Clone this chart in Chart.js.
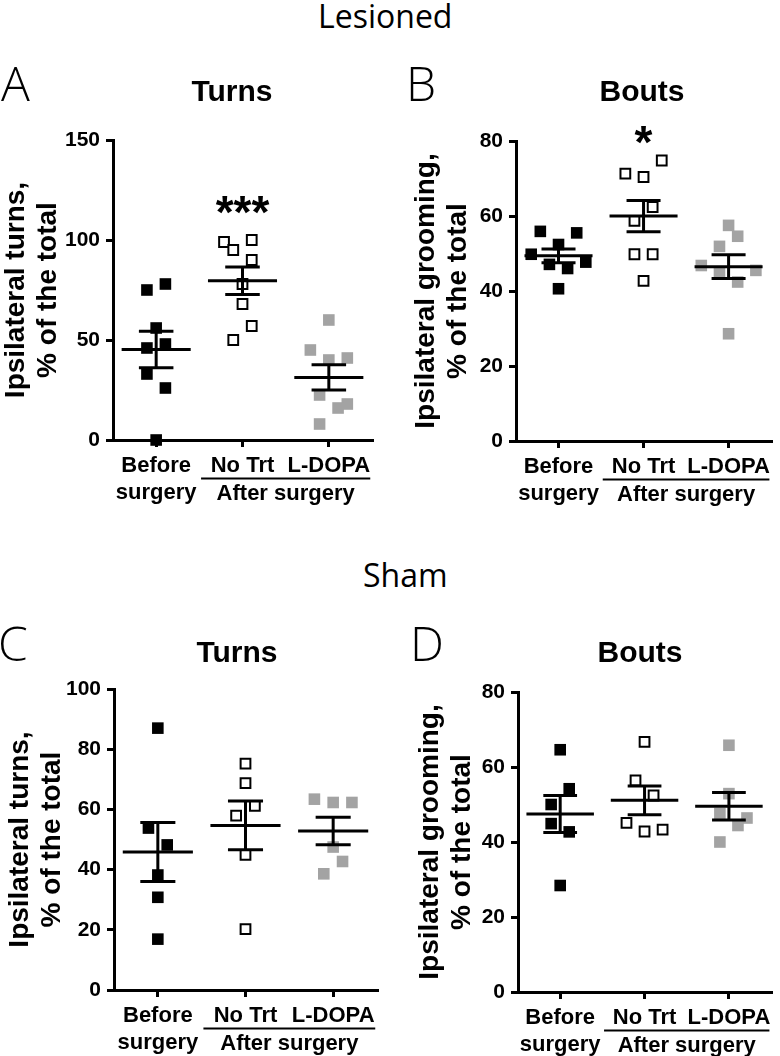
<!DOCTYPE html>
<html>
<head>
<meta charset="utf-8">
<script src="https://cdn.jsdelivr.net/npm/chart.js@4.4.0/dist/chart.umd.min.js"></script>
<style>
  body { margin: 0; background: #fff; }
  #page { position: relative; width: 780px; height: 1056px; overflow: hidden; }
  canvas { position: absolute; }
  .txt { position: absolute; line-height: 1; white-space: nowrap; color: #000; z-index: 2; }
  .head { font-family: 'Open Sans', sans-serif; font-size: 32px; }
  .letter { font-family: 'Open Sans', sans-serif; font-size: 48px; font-weight: 300; }
  .ptitle { font-family: 'Liberation Sans', Arial, sans-serif; font-size: 30px; font-weight: bold; width: 200px; text-align: center; }
</style>
</head>
<body>
<div id="page">
  <div class="txt head" style="left:318px;top:0px">Lesioned</div>
  <div class="txt head" style="left:363px;top:559px">Sham</div>

  <div class="txt letter" style="left:1px;top:59px">A</div>
  <div class="txt letter" style="left:406px;top:59px">B</div>
  <div class="txt letter" style="left:-2px;top:619px">C</div>
  <div class="txt letter" style="left:410px;top:619px">D</div>

  <div class="txt ptitle" style="left:132px;top:76px">Turns</div>
  <div class="txt ptitle" style="left:542px;top:76px">Bouts</div>
  <div class="txt ptitle" style="left:137px;top:637px">Turns</div>
  <div class="txt ptitle" style="left:540px;top:637px">Bouts</div>

  <canvas id="chartA" width="390" height="420" style="left:0px;top:100px"></canvas>
  <canvas id="chartB" width="390" height="420" style="left:390px;top:100px"></canvas>
  <canvas id="chartC" width="390" height="436" style="left:0px;top:620px"></canvas>
  <canvas id="chartD" width="390" height="436" style="left:390px;top:620px"></canvas>
</div>

<script>
// groups and axis labels
const groups = ['Before surgery', 'No Trt', 'L-DOPA'];
const xTickLabels = [['Before', 'surgery'], 'No Trt', 'L-DOPA'];
const afterLabel = 'After surgery';

// A - lesioned, turns (% ipsilateral)
const turnsLesBefore = [75, 78, 56, 46, 48, 33, 26, 0];
const turnsLesNoTrt = [99, 95, 100, 90, 78, 68, 57, 50];
const turnsLesLdopa = [60, 45, 40, 41, 22.5, 18, 16, 8];
// column each point sits in inside its group (scatter spread)
const turnsLesBeforeCol = [-1, 1, 0, -1, 1, -1, 1, 0];
const turnsLesNoTrtCol = [-2, -1, 1, 1, 0, 0, 1, -1];
const turnsLesLdopaCol = [0, -2, 0, 2, -1, 2, 1, -1];
const turnsLesSig = ['', '***', ''];
const turnsLesSigAt = 119;
const turnsLesTicks = [0, 150, 50];

// B - lesioned, grooming bouts
const boutsLesBefore = [55.9, 55.5, 52.4, 49.8, 47.7, 47.1, 46.0, 40.6];
const boutsLesNoTrt = [74.8, 71.3, 70.4, 62.4, 58.7, 49.8, 49.8, 42.7];
const boutsLesLdopa = [57.5, 54.6, 51.9, 46.8, 44.6, 42.4, 45.5, 28.6];
const boutsLesBeforeCol = [-2, 2, 0, -3, 3, -1, 1, 0];
const boutsLesNoTrtCol = [2, -2, 0, 1, -1, -1, 1, 0];
const boutsLesLdopaCol = [0, 1, -1, -3, -1, 1, 3, 0];
const boutsLesSig = ['', '*', ''];
const boutsLesSigAt = 82.3;
const boutsLesTicks = [0, 80, 20];

// C - sham, turns
const turnsShamBefore = [87, 53.8, 48.2, 38.2, 30.8, 16.9];
const turnsShamNoTrt = [75.2, 68.7, 61.2, 57.9, 44.9, 20.2];
const turnsShamLdopa = [63.4, 62.3, 62.3, 47.5, 42.7, 38.6];
const turnsShamBeforeCol = [0, -1, 1, 0, 0, 0];
const turnsShamNoTrtCol = [0, 0, 1, -1, 0, 0];
const turnsShamLdopaCol = [-2, 0, 2, 0, 1, -1];
const turnsShamTicks = [0, 100, 20];

// D - sham, grooming bouts
const boutsShamBefore = [64.6, 54.2, 50, 44.9, 42.7, 28.4];
const boutsShamNoTrt = [66.7, 56.4, 52.4, 45.1, 42.8, 43.3];
const boutsShamLdopa = [65.8, 52.9, 47.6, 46.4, 44.4, 40];
const boutsShamBeforeCol = [0, 1, -1, -1, 1, 0];
const boutsShamNoTrtCol = [0, -1, 1, -2, 0, 2];
const boutsShamLdopaCol = [0, 0, -1, 2, 1, -1];
const boutsShamTicks = [0, 80, 20];

const turnsTitle = ['Ipsilateral turns,', '% of the total'];
const groomTitle = ['Ipsilateral grooming,', '% of the total'];

const FONT = "'Liberation Sans', Arial, sans-serif";
const SLOT = 0.107; // column spacing, in category units
const GREY = '#a3a3a3';

function mean(a) {
    return a.reduce((s, v) => s + v, 0) / a.length;
}

function sem(a) {
    const m = mean(a);
    const ss = a.reduce((s, v) => s + (v - m) * (v - m), 0);
    return Math.sqrt(ss / (a.length - 1)) / Math.sqrt(a.length);
}

// mean +- SEM bars, significance stars and the "After surgery" bracket
function makeMarksPlugin(p) {
    return {
        id: 'marks',
        afterDatasetsDraw(chart) {
            const ctx = chart.ctx, xs = chart.scales.x, ys = chart.scales.y;
            ctx.save();
            ctx.strokeStyle = '#000';
            ctx.lineWidth = 3;
            p.values.forEach((vals, g) => {
                const c = g + 1, m = mean(vals), s = sem(vals);
                const seg = (x1, y1, x2, y2) => {
                    ctx.beginPath();
                    ctx.moveTo(xs.getPixelForValue(x1), ys.getPixelForValue(y1));
                    ctx.lineTo(xs.getPixelForValue(x2), ys.getPixelForValue(y2));
                    ctx.stroke();
                };
                seg(c - 0.4, m, c + 0.4, m);
                seg(c, m - s, c, m + s);
                seg(c - 0.2, m + s, c + 0.2, m + s);
                seg(c - 0.2, m - s, c + 0.2, m - s);
            });
            ctx.restore();
        },
        afterDraw(chart) {
            const ctx = chart.ctx, xs = chart.scales.x, ys = chart.scales.y;
            const bottom = chart.chartArea.bottom;
            ctx.save();
            ctx.fillStyle = '#000';
            ctx.strokeStyle = '#000';
            // bracket under the two after-surgery groups
            ctx.lineWidth = 2;
            ctx.beginPath();
            ctx.moveTo(xs.getPixelForValue(1.52), bottom + 38.5);
            ctx.lineTo(xs.getPixelForValue(3.48), bottom + 38.5);
            ctx.stroke();
            ctx.font = 'bold 22px ' + FONT;
            ctx.textAlign = 'center';
            ctx.textBaseline = 'middle';
            ctx.fillText(afterLabel, xs.getPixelForValue(2.5), bottom + 54);
            // stars
            if (p.sig) {
                ctx.font = 'bold 46px ' + FONT;
                ctx.textBaseline = 'alphabetic';
                p.sig.forEach((txt, g) => {
                    if (!txt) return;
                    ctx.fillText(txt, xs.getPixelForValue(g + 1), ys.getPixelForValue(p.sigAt) + 0.56 * 46);
                });
            }
            ctx.restore();
        }
    };
}

function makeChart(id, p) {
    const looks = [
        { pointBackgroundColor: '#000', pointBorderColor: '#000', pointBorderWidth: 0, pointRadius: 8.2 },
        { pointBackgroundColor: '#fff', pointBorderColor: '#000', pointBorderWidth: 2, pointRadius: 6.9 },
        { pointBackgroundColor: GREY, pointBorderColor: GREY, pointBorderWidth: 0, pointRadius: 8.2 }
    ];
    const datasets = p.values.map((vals, g) => Object.assign({
        label: groups[g],
        data: vals.map((v, k) => ({ x: g + 1 + p.cols[g][k] * SLOT, y: v })),
        pointStyle: 'rect',
        showLine: false,
        clip: false
    }, looks[g]));

    const axisGrid = { display: true, drawOnChartArea: false, drawTicks: true, tickLength: 7, lineWidth: 3, color: '#000' };
    const axisBorder = { display: true, width: 3, color: '#000' };

    return new Chart(document.getElementById(id), {
        type: 'scatter',
        data: { datasets: datasets },
        options: {
            responsive: false,
            animation: false,
            events: [],
            layout: { padding: p.pad },
            plugins: { legend: { display: false }, tooltip: { enabled: false } },
            scales: {
                x: {
                    type: 'linear',
                    min: 0.5,
                    max: 3.5,
                    afterBuildTicks: s => { s.ticks = [1, 2, 3].map(v => ({ value: v })); },
                    afterFit: s => { s.height = p.xHeight; },
                    ticks: {
                        callback: v => xTickLabels[Math.round(v) - 1],
                        color: '#000',
                        font: { family: FONT, size: 22, weight: 'bold', lineHeight: 1.25 },
                        padding: 5,
                        maxRotation: 0,
                        autoSkip: false
                    },
                    grid: axisGrid,
                    border: axisBorder
                },
                y: {
                    min: p.ticks[0],
                    max: p.ticks[1],
                    afterFit: s => { s.width = p.yWidth; },
                    ticks: {
                        stepSize: p.ticks[2],
                        color: '#000',
                        font: { family: FONT, size: 21, weight: 'bold' },
                        padding: 6
                    },
                    grid: axisGrid,
                    border: axisBorder,
                    title: {
                        display: true,
                        text: p.title,
                        color: '#000',
                        font: { family: FONT, size: 28, weight: 'bold', lineHeight: 1.15 },
                        padding: { top: 0, bottom: 0 }
                    }
                }
            }
        },
        plugins: [makeMarksPlugin(p)]
    });
}

makeChart('chartA', {
    values: [turnsLesBefore, turnsLesNoTrt, turnsLesLdopa],
    cols: [turnsLesBeforeCol, turnsLesNoTrtCol, turnsLesLdopaCol],
    sig: turnsLesSig, sigAt: turnsLesSigAt,
    ticks: turnsLesTicks, title: turnsTitle,
    pad: { left: 0, top: 40, right: 18, bottom: 14 }, yWidth: 113, xHeight: 66
});

makeChart('chartB', {
    values: [boutsLesBefore, boutsLesNoTrt, boutsLesLdopa],
    cols: [boutsLesBeforeCol, boutsLesNoTrtCol, boutsLesLdopaCol],
    sig: boutsLesSig, sigAt: boutsLesSigAt,
    ticks: boutsLesTicks, title: groomTitle,
    pad: { left: 20, top: 41, right: 6, bottom: 13 }, yWidth: 106, xHeight: 66
});

makeChart('chartC', {
    values: [turnsShamBefore, turnsShamNoTrt, turnsShamLdopa],
    cols: [turnsShamBeforeCol, turnsShamNoTrtCol, turnsShamLdopaCol],
    ticks: turnsShamTicks, title: turnsTitle,
    pad: { left: 4, top: 69, right: 13, bottom: 0 }, yWidth: 110, xHeight: 66
});

makeChart('chartD', {
    values: [boutsShamBefore, boutsShamNoTrt, boutsShamLdopa],
    cols: [boutsShamBeforeCol, boutsShamNoTrtCol, boutsShamLdopaCol],
    ticks: boutsShamTicks, title: groomTitle,
    pad: { left: 24, top: 72, right: 5, bottom: 0 }, yWidth: 104, xHeight: 64
});
</script>
</body>
</html>
